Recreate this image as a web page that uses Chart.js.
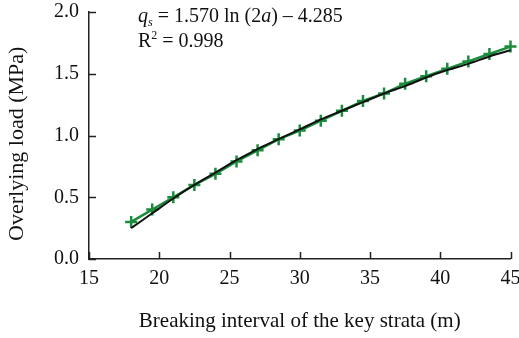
<!DOCTYPE html>
<html>
<head>
<meta charset="utf-8">
<script src="https://cdn.jsdelivr.net/npm/chart.js@4.4.1/dist/chart.umd.min.js"></script>
<style>
html,body{margin:0;padding:0;background:#fff;}
#wrap{width:519px;height:338px;}
</style>
</head>
<body>
<div id="wrap"><canvas id="c" width="519" height="338"></canvas></div>
<script>
const xValues = [18, 19.5, 21, 22.5, 24, 25.5, 27, 28.5, 30, 31.5, 33, 34.5, 36, 37.5, 39, 40.5, 42, 43.5, 45];
const measuredLoad = [0.30, 0.40, 0.50, 0.60, 0.69, 0.79, 0.88, 0.97, 1.04, 1.12, 1.20, 1.28, 1.34, 1.42, 1.48, 1.54, 1.60, 1.66, 1.72];
const fittedLoad = [0.25, 0.37, 0.49, 0.60, 0.70, 0.80, 0.89, 0.97, 1.05, 1.13, 1.20, 1.27, 1.34, 1.40, 1.47, 1.53, 1.58, 1.64, 1.69];
const xTicks = [15, 20, 25, 30, 35, 40, 45];
const yTicks = [0.0, 0.5, 1.0, 1.5, 2.0];
const xTitle = 'Breaking interval of the key strata (m)';
const yTitle = 'Overlying load (MPa)   ';

const FONT = '"Liberation Serif", "DejaVu Serif", serif';
const GREEN = '#1b8b3c';

const tickPlugin = {
  id: 'inwardTicks',
  afterDatasetsDraw(chart) {
    const ctx = chart.ctx;
    const xs = chart.scales.x, ys = chart.scales.y;
    const a = chart.chartArea;
    ctx.save();
    ctx.strokeStyle = '#222';
    ctx.lineWidth = 1.5;
    ctx.beginPath();
    xTicks.forEach(v => {
      const px = Math.round(xs.getPixelForValue(v)) + 0.5;
      ctx.moveTo(px, a.bottom);
      ctx.lineTo(px, a.bottom - 7);
    });
    yTicks.forEach(v => {
      const py = Math.round(ys.getPixelForValue(v)) + 0.5;
      ctx.moveTo(a.left, py);
      ctx.lineTo(a.left + 7, py);
    });
    ctx.stroke();
    // annotation
    const x0 = 138;
    let x = x0;
    const size = 20;
    const seg = (t, style, sz, dy) => {
      ctx.font = (style || '') + ' ' + (sz || size) + 'px ' + FONT;
      ctx.fillText(t, x, 22 + (dy || 0));
      x += ctx.measureText(t).width;
    };
    ctx.fillStyle = '#111';
    ctx.textBaseline = 'alphabetic';
    seg('q', 'italic');
    seg('s', 'italic', 12, 4);
    seg(' = 1.570 ln (2');
    seg('a', 'italic');
    seg(') \u2013 4.285');
    x = x0;
    const seg2 = (t, sz, dy) => {
      ctx.font = (sz || size) + 'px ' + FONT;
      ctx.fillText(t, x, 47 + (dy || 0));
      x += ctx.measureText(t).width;
    };
    seg2('R');
    seg2('2', 12, -8);
    seg2(' = 0.998');
    ctx.restore();
  }
};

new Chart(document.getElementById('c'), {
  type: 'line',
  data: {
    datasets: [
      {
        label: 'Measured',
        data: xValues.map((x, i) => ({x, y: measuredLoad[i]})),
        borderColor: GREEN,
        backgroundColor: GREEN,
        borderWidth: 2.5,
        pointStyle: 'cross',
        pointRadius: 6,
        pointBorderWidth: 2.5,
        pointBorderColor: GREEN,
        tension: 0,
        clip: false,
        order: 2
      },
      {
        label: 'Fit',
        data: xValues.map((x, i) => ({x, y: fittedLoad[i]})),
        borderColor: '#111',
        borderWidth: 2,
        pointRadius: 0,
        cubicInterpolationMode: 'monotone',
        clip: false,
        order: 1
      }
    ]
  },
  options: {
    responsive: false,
    devicePixelRatio: 1,
    animation: false,
    layout: { padding: { top: 12, right: 8, left: 0, bottom: 0 } },
    plugins: { legend: { display: false }, tooltip: { enabled: false } },
    scales: {
      x: {
        type: 'linear',
        min: 15, max: 45,
        afterBuildTicks: s => { s.ticks = xTicks.map(v => ({value: v})); },
        afterFit: s => { s.height = 79; s.paddingRight = 0; s.paddingLeft = 0; },
        grid: { display: true, drawOnChartArea: false, drawTicks: false },
        border: { display: true, color: '#222', width: 1.5 },
        ticks: { color: '#111', font: { family: FONT, size: 20 }, padding: 8, maxRotation: 0 },
        title: { display: true, text: xTitle, color: '#111', font: { family: FONT, size: 21 }, padding: { top: 0, bottom: 4 } }
      },
      y: {
        type: 'linear',
        min: 0, max: 2,
        afterBuildTicks: s => { s.ticks = yTicks.map(v => ({value: v})); },
        afterFit: s => { s.width = 89; s.paddingTop = 0; s.paddingBottom = 0; },
        grid: { display: true, drawOnChartArea: false, drawTicks: false },
        border: { display: true, color: '#222', width: 1.5 },
        ticks: { color: '#111', font: { family: FONT, size: 20 }, padding: 10, callback: v => v.toFixed(1) },
        title: { display: true, text: yTitle, color: '#111', font: { family: FONT, size: 22 }, padding: { top: 4, bottom: 0 } }
      }
    }
  },
  plugins: [tickPlugin]
});
</script>
</body>
</html>
